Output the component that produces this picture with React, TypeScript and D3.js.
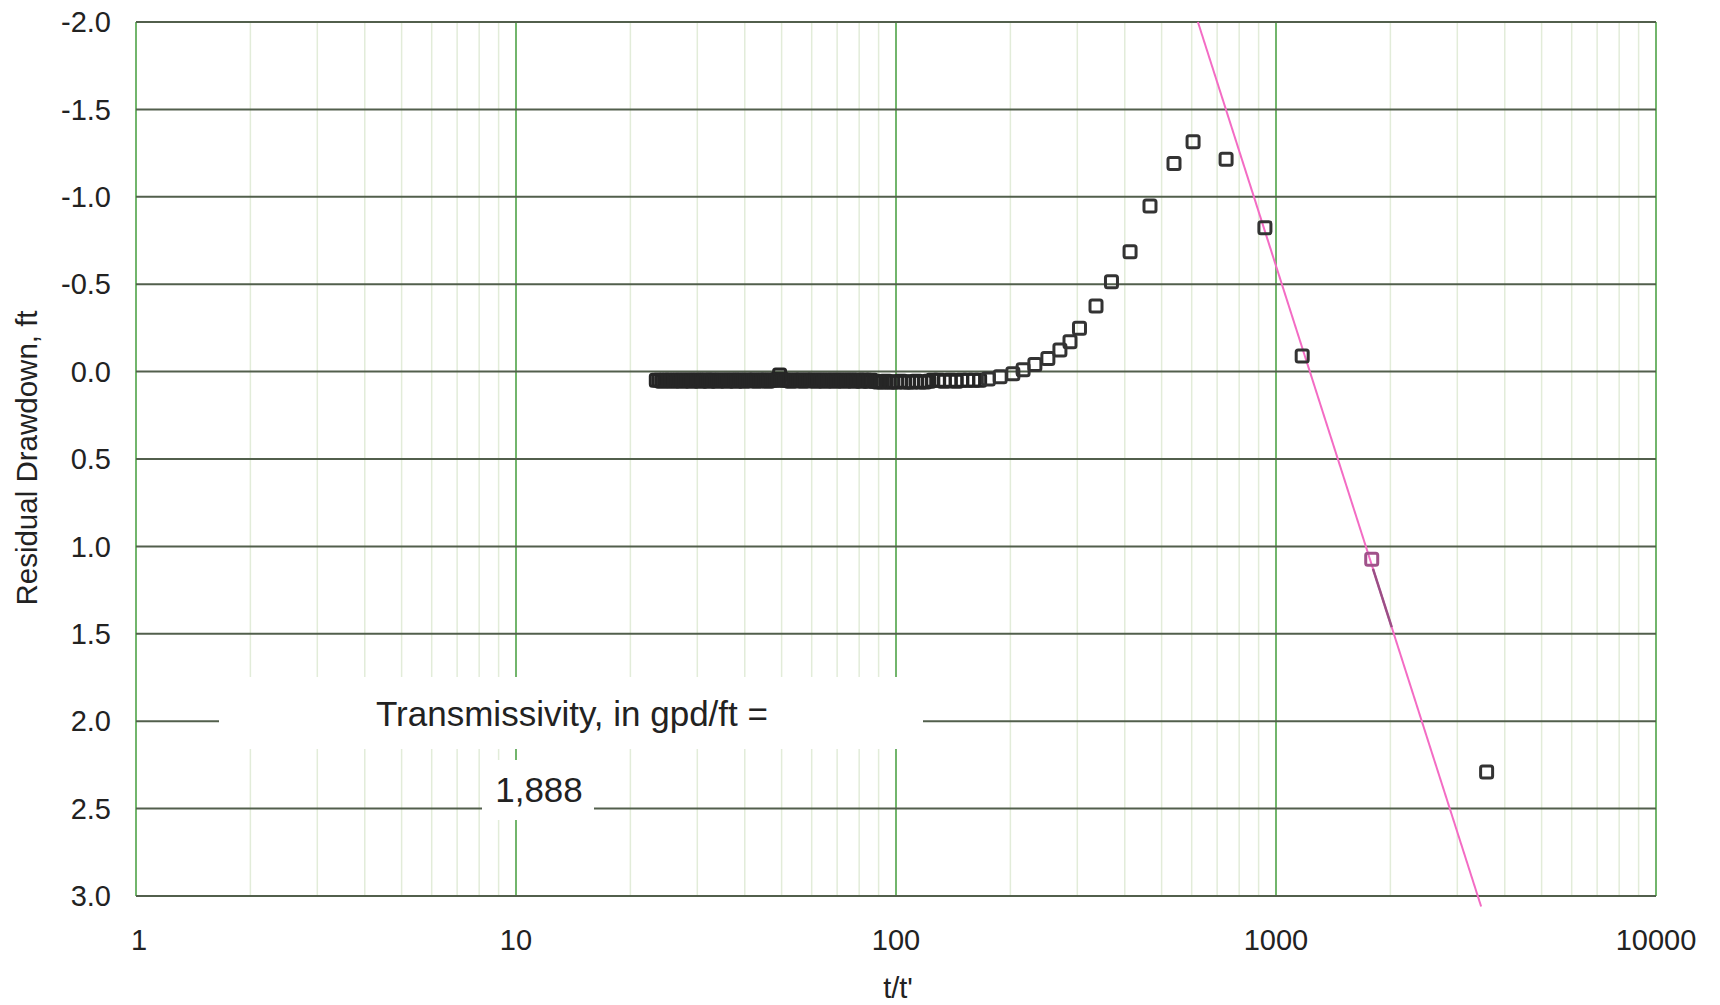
import React from "react";
import * as d3 from "d3";

const xTicks = [1, 10, 100, 1000, 10000];
const yTicks = [-2.0, -1.5, -1.0, -0.5, 0.0, 0.5, 1.0, 1.5, 2.0, 2.5, 3.0];

// t/t' , residual drawdown (ft) - early recovery
const risePoints = [
  [3583, 2.29], [1172, -0.089], [935, -0.823], [739, -1.215], [605, -1.315],
  [539, -1.19], [466, -0.947], [413, -0.686], [369, -0.514], [336, -0.375],
  [304, -0.248], [287, -0.171], [270, -0.124], [251, -0.075], [232, -0.04],
  [216, -0.01], [203, 0.012], [188, 0.03], [175, 0.043],
];

// late recovery, the flat band just below zero drawdown
const bandPoints = [
  [166, 0.05], [160, 0.05], [154.5, 0.05], [149, 0.05], [144, 0.055], [139, 0.05],
  [134, 0.055], [129.5, 0.05], [125, 0.05], [122, 0.055], [119, 0.06], [116, 0.06],
  [113, 0.055], [110.5, 0.06], [108, 0.06], [105.5, 0.06], [103, 0.055], [100.5, 0.06],
  [98, 0.06], [96, 0.06], [94, 0.055], [92, 0.06], [90, 0.06], [88, 0.055],
  [86, 0.05], [84.8, 0.055], [83.6, 0.05], [82.4, 0.05], [81.2, 0.055], [80, 0.05],
  [78.8, 0.05], [77.6, 0.055], [76.5, 0.05], [75.4, 0.05], [74.3, 0.05], [73.2, 0.055],
  [72.1, 0.05], [71, 0.05], [70, 0.05], [69, 0.055], [68, 0.05], [67, 0.05],
  [66, 0.05], [65, 0.055], [64, 0.05], [63.1, 0.05], [62.2, 0.05], [61.3, 0.055],
  [60.4, 0.05], [59.5, 0.05], [58.6, 0.05], [57.8, 0.05], [57, 0.055], [56.2, 0.05],
  [55.4, 0.05], [54.6, 0.05], [53.8, 0.05], [53, 0.055], [52.2, 0.05], [51.5, 0.05],
  [50.8, 0.05], [50.1, 0.045], [49.4, 0.02], [48.7, 0.045], [48, 0.05], [47.3, 0.05],
  [46.6, 0.05], [46, 0.055], [45.4, 0.05], [44.8, 0.05], [44.2, 0.05], [43.6, 0.05],
  [43, 0.055], [42.4, 0.05], [41.8, 0.05], [41.2, 0.05], [40.6, 0.05], [40, 0.055],
  [39.4, 0.05], [38.9, 0.05], [38.4, 0.05], [37.9, 0.055], [37.4, 0.05], [36.9, 0.05],
  [36.4, 0.05], [35.9, 0.055], [35.4, 0.05], [34.9, 0.05], [34.4, 0.05], [33.9, 0.055],
  [33.4, 0.05], [33, 0.05], [32.6, 0.05], [32.2, 0.055], [31.8, 0.05], [31.4, 0.05],
  [31, 0.05], [30.6, 0.055], [30.2, 0.05], [29.8, 0.05], [29.4, 0.05], [29, 0.055],
  [28.6, 0.05], [28.2, 0.05], [27.8, 0.05], [27.4, 0.055], [27, 0.05], [26.6, 0.05],
  [26.2, 0.05], [25.8, 0.055], [25.4, 0.05], [25, 0.05], [24.6, 0.05], [24.2, 0.055],
  [23.8, 0.05], [23.4, 0.05],
];

const fitPoint = [1786, 1.074];
const fitLine = [[623, -2.0], [3466, 3.06]];
const fitOverlap = [[1800, 1.128], [2016, 1.462]];

const noteLabel = "Transmissivity, in gpd/ft =";
const noteValue = "1,888";

const font = "Arial, 'Liberation Sans', sans-serif";

export default function App() {
  const width = 1720;
  const height = 1005;
  const x = d3.scaleLog().domain([1, 10000]).range([136, 1656]);
  const y = d3.scaleLinear().domain([-2, 3]).range([22, 896]);
  const [x0, x1] = x.range();
  const [y0, y1] = y.range();

  const minor = x.ticks().filter((t) => !xTicks.includes(t));
  const line = d3
    .line<number[]>()
    .x((d) => x(d[0]))
    .y((d) => y(d[1]));

  const sq = 12;
  const square = (d: number[], i: number, color: string) => (
    <rect
      key={i}
      x={x(d[0]) - sq / 2}
      y={y(d[1]) - sq / 2}
      width={sq}
      height={sq}
      rx={2}
      fill="none"
      stroke={color}
      strokeWidth={3}
    />
  );

  return (
    <svg
      width={width}
      height={height}
      style={{ position: "absolute", left: 0, top: 0, background: "#fff" }}
      fontFamily={font}
    >
      {minor.map((t) => (
        <line key={"m" + t} x1={x(t)} x2={x(t)} y1={y0} y2={y1} stroke="#e2ecd9" strokeWidth={1.5} />
      ))}
      {xTicks.map((t) => (
        <line key={"v" + t} x1={x(t)} x2={x(t)} y1={y0} y2={y1} stroke="#72b56c" strokeWidth={2} />
      ))}
      {yTicks.map((v) => (
        <line key={"h" + v} x1={x0} x2={x1} y1={y(v)} y2={y(v)} stroke="#525f4c" strokeWidth={2} />
      ))}

      {/* annotation boxes hide the grid behind them */}
      <rect x={219} y={677} width={704} height={72} fill="#fff" />
      <rect x={482} y={760} width={112} height={60} fill="#fff" />
      <text x={572} y={726} textAnchor="middle" fontSize={35} fill="#222">
        {noteLabel}
      </text>
      <text x={539} y={802} textAnchor="middle" fontSize={35} fill="#222">
        {noteValue}
      </text>

      <path d={line(fitLine) || ""} fill="none" stroke="#f36cc4" strokeWidth={2} />
      <path d={line(fitOverlap) || ""} fill="none" stroke="#9b4f86" strokeWidth={2.5} />

      {bandPoints.map((d, i) => square(d, i, "#262626"))}
      {risePoints.map((d, i) => square(d, i + 1000, "#333"))}
      {square(fitPoint, 5000, "#a0528a")}

      {yTicks.map((v) => (
        <text key={"yl" + v} x={111} y={y(v)} dy="0.35em" textAnchor="end" fontSize={29} fill="#222">
          {v.toFixed(1)}
        </text>
      ))}
      {xTicks.map((t) => (
        <text key={"xl" + t} x={x(t) + (t === 1 ? 3 : 0)} y={950} textAnchor="middle" fontSize={29} fill="#222">
          {t}
        </text>
      ))}
      <text x={898} y={998} textAnchor="middle" fontSize={29} fill="#222">
        t/t'
      </text>
      <text transform="translate(37,458) rotate(-90)" textAnchor="middle" fontSize={29.5} fill="#222">
        Residual Drawdown, ft
      </text>
    </svg>
  );
}
